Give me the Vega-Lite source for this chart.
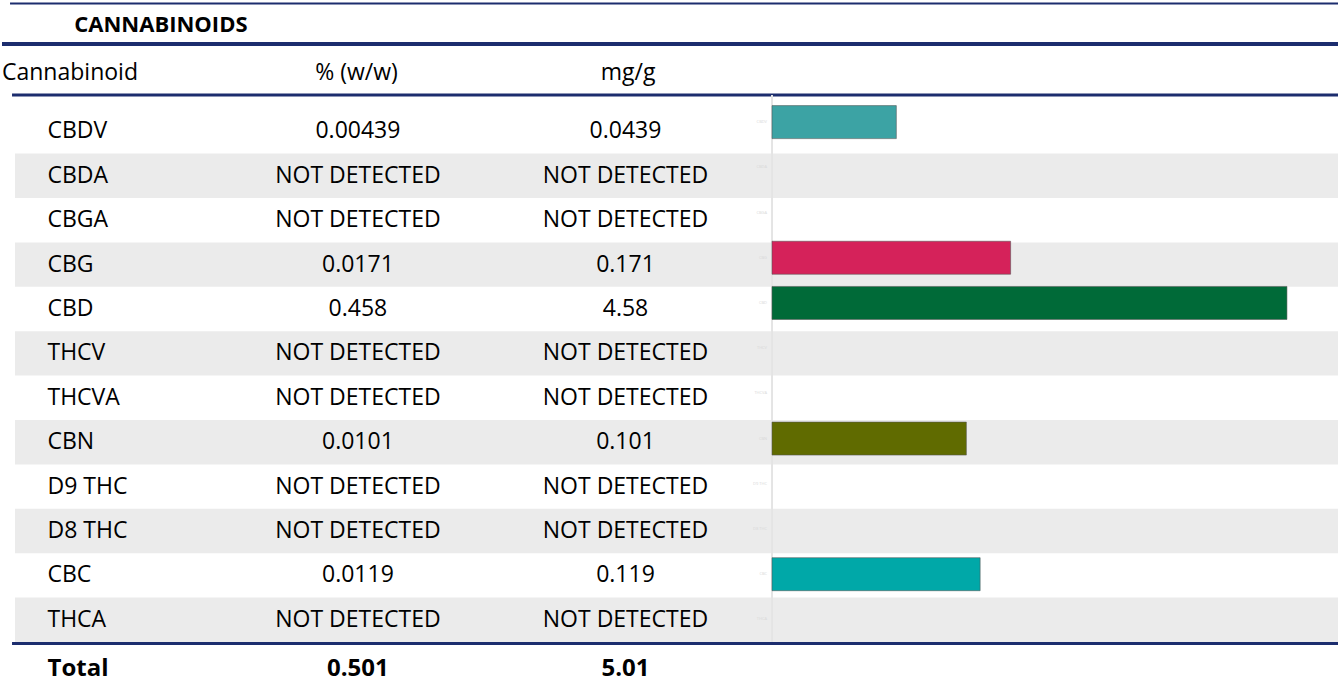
{
  "$schema": "https://vega.github.io/schema/vega-lite/v6.json",
  "padding": 0,
  "spacing": 0,
  "bounds": "flush",
  "config": {"view": {"stroke": null}, "font": "Open Sans", "concat": {"spacing": 0}},
  "datasets": {
    "rows": [
      {"name": "CBDV", "pct": "0.00439", "mg": "0.0439", "value": 0.0439},
      {"name": "CBDA", "pct": "NOT DETECTED", "mg": "NOT DETECTED", "value": null},
      {"name": "CBGA", "pct": "NOT DETECTED", "mg": "NOT DETECTED", "value": null},
      {"name": "CBG", "pct": "0.0171", "mg": "0.171", "value": 0.171},
      {"name": "CBD", "pct": "0.458", "mg": "4.58", "value": 4.58},
      {"name": "THCV", "pct": "NOT DETECTED", "mg": "NOT DETECTED", "value": null},
      {"name": "THCVA", "pct": "NOT DETECTED", "mg": "NOT DETECTED", "value": null},
      {"name": "CBN", "pct": "0.0101", "mg": "0.101", "value": 0.101},
      {"name": "D9 THC", "pct": "NOT DETECTED", "mg": "NOT DETECTED", "value": null},
      {"name": "D8 THC", "pct": "NOT DETECTED", "mg": "NOT DETECTED", "value": null},
      {"name": "CBC", "pct": "0.0119", "mg": "0.119", "value": 0.119},
      {"name": "THCA", "pct": "NOT DETECTED", "mg": "NOT DETECTED", "value": null}
    ],
    "head": [
      {"row": "title", "label": "CANNABINOIDS"},
      {"row": "header", "c1": "Cannabinoid", "c2": "% (w/w)", "c3": "mg/g"}
    ],
    "total": [
      {"label": "Total", "pct": "0.501", "mg": "5.01"}
    ]
  },
  "vconcat": [
    {
      "width": 1338,
      "height": 95,
      "data": {"name": "head"},
      "encoding": {
        "y": {"field": "row", "type": "nominal", "axis": null, "scale": {"type": "band", "domain": ["title", "header"], "paddingInner": 0, "paddingOuter": 0}}
      },
      "layer": [
        {
          "transform": [{"filter": "datum.row === 'title'"}],
          "mark": {"type": "rule", "color": "#1C2D6E", "strokeWidth": 2, "yOffset": 3.5},
          "encoding": {
            "y": {"field": "row", "type": "nominal", "bandPosition": 0, "axis": null, "scale": {"type": "band", "domain": ["title", "header"], "paddingInner": 0, "paddingOuter": 0}},
            "x": {"datum": 0.6, "type": "quantitative", "axis": null, "scale": {"domain": [0, 100], "nice": false, "zero": false}},
            "x2": {"datum": 100}
          }
        },
        {
          "transform": [{"filter": "datum.row === 'header'"}],
          "mark": {"type": "rule", "color": "#1C2D6E", "strokeWidth": 4, "yOffset": -3.5},
          "encoding": {
            "y": {"field": "row", "type": "nominal", "bandPosition": 0, "axis": null, "scale": {"type": "band", "domain": ["title", "header"], "paddingInner": 0, "paddingOuter": 0}},
            "x": {"datum": 0, "type": "quantitative", "axis": null, "scale": {"domain": [0, 100], "nice": false, "zero": false}},
            "x2": {"datum": 100}
          }
        },
        {
          "transform": [{"filter": "datum.row === 'header'"}],
          "mark": {"type": "rule", "color": "#1C2D6E", "strokeWidth": 3},
          "encoding": {
            "y": {"field": "row", "type": "nominal", "bandPosition": 1, "axis": null, "scale": {"type": "band", "domain": ["title", "header"], "paddingInner": 0, "paddingOuter": 0}},
            "x": {"datum": 0.75, "type": "quantitative", "axis": null, "scale": {"domain": [0, 100], "nice": false, "zero": false}},
            "x2": {"datum": 100}
          }
        },
        {
          "transform": [{"filter": "datum.row === 'title'"}],
          "mark": {"type": "text", "align": "left", "baseline": "middle", "fontSize": 22, "fontWeight": "bold", "color": "#000000", "dy": 1},
          "encoding": {
            "text": {"field": "label"},
            "x": {"datum": 5.4, "type": "quantitative", "axis": null, "scale": {"domain": [0, 100], "nice": false, "zero": false}}
          }
        },
        {
          "transform": [{"filter": "datum.row === 'header'"}],
          "mark": {"type": "text", "align": "left", "baseline": "middle", "fontSize": 23, "color": "#000000", "dy": 2},
          "encoding": {
            "text": {"field": "c1"},
            "x": {"datum": 0.0, "type": "quantitative", "axis": null, "scale": {"domain": [0, 100], "nice": false, "zero": false}}
          }
        },
        {
          "transform": [{"filter": "datum.row === 'header'"}],
          "mark": {"type": "text", "align": "center", "baseline": "middle", "fontSize": 23, "color": "#000000", "dy": 2},
          "encoding": {
            "text": {"field": "c2"},
            "x": {"datum": 26.5, "type": "quantitative", "axis": null, "scale": {"domain": [0, 100], "nice": false, "zero": false}}
          }
        },
        {
          "transform": [{"filter": "datum.row === 'header'"}],
          "mark": {"type": "text", "align": "center", "baseline": "middle", "fontSize": 23, "color": "#000000", "dy": 2},
          "encoding": {
            "text": {"field": "c3"},
            "x": {"datum": 46.8, "type": "quantitative", "axis": null, "scale": {"domain": [0, 100], "nice": false, "zero": false}}
          }
        }
      ]
    },
    {
      "width": 1338,
      "height": 547,
      "data": {"name": "rows"},
      "resolve": {"scale": {"x": "independent", "y": "independent"}},
      "layer": [
        {
          "transform": [{"filter": "indexof(['CBDA','CBG','THCV','CBN','D8 THC','THCA'], datum.name) >= 0"}],
          "mark": {"type": "rect", "color": "#EBEBEB"},
          "encoding": {
            "y": {"field": "name", "type": "nominal", "axis": null, "scale": {"type": "band", "domain": ["CBDV","CBDA","CBGA","CBG","CBD","THCV","THCVA","CBN","D9 THC","D8 THC","CBC","THCA"], "paddingInner": 0, "paddingOuter": 0.16, "align": 1}},
            "x": {"datum": 0.97, "type": "quantitative", "axis": null, "scale": {"domain": [0, 100], "nice": false, "zero": false}},
            "x2": {"datum": 100}
          }
        },
        {
          "mark": {"type": "rule", "color": "#E4E4E4", "strokeWidth": 1},
          "encoding": {
            "x": {"datum": 0.01, "type": "quantitative", "axis": null, "scale": {"type": "log", "domain": [0.00000105, 8.61], "nice": false}}
          }
        },
        {
          "transform": [{"filter": "isValid(datum.value)"}],
          "mark": {"type": "bar", "height": {"band": 0.73}, "stroke": "#555555", "strokeWidth": 0.8, "strokeOpacity": 0.7},
          "encoding": {
            "y": {"field": "name", "type": "nominal", "axis": null, "scale": {"type": "band", "domain": ["CBDV","CBDA","CBGA","CBG","CBD","THCV","THCVA","CBN","D9 THC","D8 THC","CBC","THCA"], "paddingInner": 0, "paddingOuter": 0.05, "align": 1}},
            "x": {"field": "value", "type": "quantitative", "axis": null, "scale": {"type": "log", "domain": [0.00000105, 8.61], "nice": false}},
            "x2": {"datum": 0.01},
            "color": {"field": "name", "type": "nominal", "legend": null, "scale": {"domain": ["CBDV","CBG","CBD","CBN","CBC"], "range": ["#3CA3A4","#D5225A","#006A38","#606B00","#00A8A8"]}}
          }
        },
        {
          "mark": {"type": "text", "align": "right", "baseline": "middle", "fontSize": 4, "color": "#D8D8D8", "dx": -5},
          "encoding": {
            "text": {"field": "name"},
            "y": {"field": "name", "type": "nominal", "axis": null, "scale": {"type": "band", "domain": ["CBDV","CBDA","CBGA","CBG","CBD","THCV","THCVA","CBN","D9 THC","D8 THC","CBC","THCA"], "paddingInner": 0, "paddingOuter": 0.05, "align": 1}},
            "x": {"datum": 0.01, "type": "quantitative", "axis": null, "scale": {"type": "log", "domain": [0.00000105, 8.61], "nice": false}}
          }
        },
        {
          "mark": {"type": "text", "align": "left", "baseline": "middle", "fontSize": 23, "color": "#000000"},
          "encoding": {
            "text": {"field": "name"},
            "y": {"field": "name", "type": "nominal", "axis": null, "scale": {"type": "band", "domain": ["CBDV","CBDA","CBGA","CBG","CBD","THCV","THCVA","CBN","D9 THC","D8 THC","CBC","THCA"], "paddingInner": 0, "paddingOuter": 0.16, "align": 1}},
            "x": {"datum": 3.4, "type": "quantitative", "axis": null, "scale": {"domain": [0, 100], "nice": false, "zero": false}}
          }
        },
        {
          "mark": {"type": "text", "align": "center", "baseline": "middle", "fontSize": 23, "color": "#000000"},
          "encoding": {
            "text": {"field": "pct"},
            "y": {"field": "name", "type": "nominal", "axis": null, "scale": {"type": "band", "domain": ["CBDV","CBDA","CBGA","CBG","CBD","THCV","THCVA","CBN","D9 THC","D8 THC","CBC","THCA"], "paddingInner": 0, "paddingOuter": 0.16, "align": 1}},
            "x": {"datum": 26.6, "type": "quantitative", "axis": null, "scale": {"domain": [0, 100], "nice": false, "zero": false}}
          }
        },
        {
          "mark": {"type": "text", "align": "center", "baseline": "middle", "fontSize": 23, "color": "#000000"},
          "encoding": {
            "text": {"field": "mg"},
            "y": {"field": "name", "type": "nominal", "axis": null, "scale": {"type": "band", "domain": ["CBDV","CBDA","CBGA","CBG","CBD","THCV","THCVA","CBN","D9 THC","D8 THC","CBC","THCA"], "paddingInner": 0, "paddingOuter": 0.16, "align": 1}},
            "x": {"datum": 46.6, "type": "quantitative", "axis": null, "scale": {"domain": [0, 100], "nice": false, "zero": false}}
          }
        },
        {
          "transform": [{"filter": "datum.name === 'THCA'"}],
          "mark": {"type": "rule", "color": "#1C2D6E", "strokeWidth": 3, "yOffset": 1.5},
          "encoding": {
            "y": {"field": "name", "type": "nominal", "bandPosition": 1, "axis": null, "scale": {"type": "band", "domain": ["CBDV","CBDA","CBGA","CBG","CBD","THCV","THCVA","CBN","D9 THC","D8 THC","CBC","THCA"], "paddingInner": 0, "paddingOuter": 0.16, "align": 1}},
            "x": {"datum": 0.75, "type": "quantitative", "axis": null, "scale": {"domain": [0, 100], "nice": false, "zero": false}},
            "x2": {"datum": 100}
          }
        }
      ]
    },
    {
      "width": 1338,
      "height": 46,
      "data": {"name": "total"},
      "layer": [
        {
          "mark": {"type": "text", "align": "left", "baseline": "middle", "fontSize": 24, "fontWeight": "bold", "color": "#000000", "dy": 4},
          "encoding": {
            "text": {"field": "label"},
            "x": {"datum": 3.4, "type": "quantitative", "axis": null, "scale": {"domain": [0, 100], "nice": false, "zero": false}}
          }
        },
        {
          "mark": {"type": "text", "align": "center", "baseline": "middle", "fontSize": 24, "fontWeight": "bold", "color": "#000000", "dy": 4},
          "encoding": {
            "text": {"field": "pct"},
            "x": {"datum": 26.6, "type": "quantitative", "axis": null, "scale": {"domain": [0, 100], "nice": false, "zero": false}}
          }
        },
        {
          "mark": {"type": "text", "align": "center", "baseline": "middle", "fontSize": 24, "fontWeight": "bold", "color": "#000000", "dy": 4},
          "encoding": {
            "text": {"field": "mg"},
            "x": {"datum": 46.6, "type": "quantitative", "axis": null, "scale": {"domain": [0, 100], "nice": false, "zero": false}}
          }
        }
      ]
    }
  ]
}
